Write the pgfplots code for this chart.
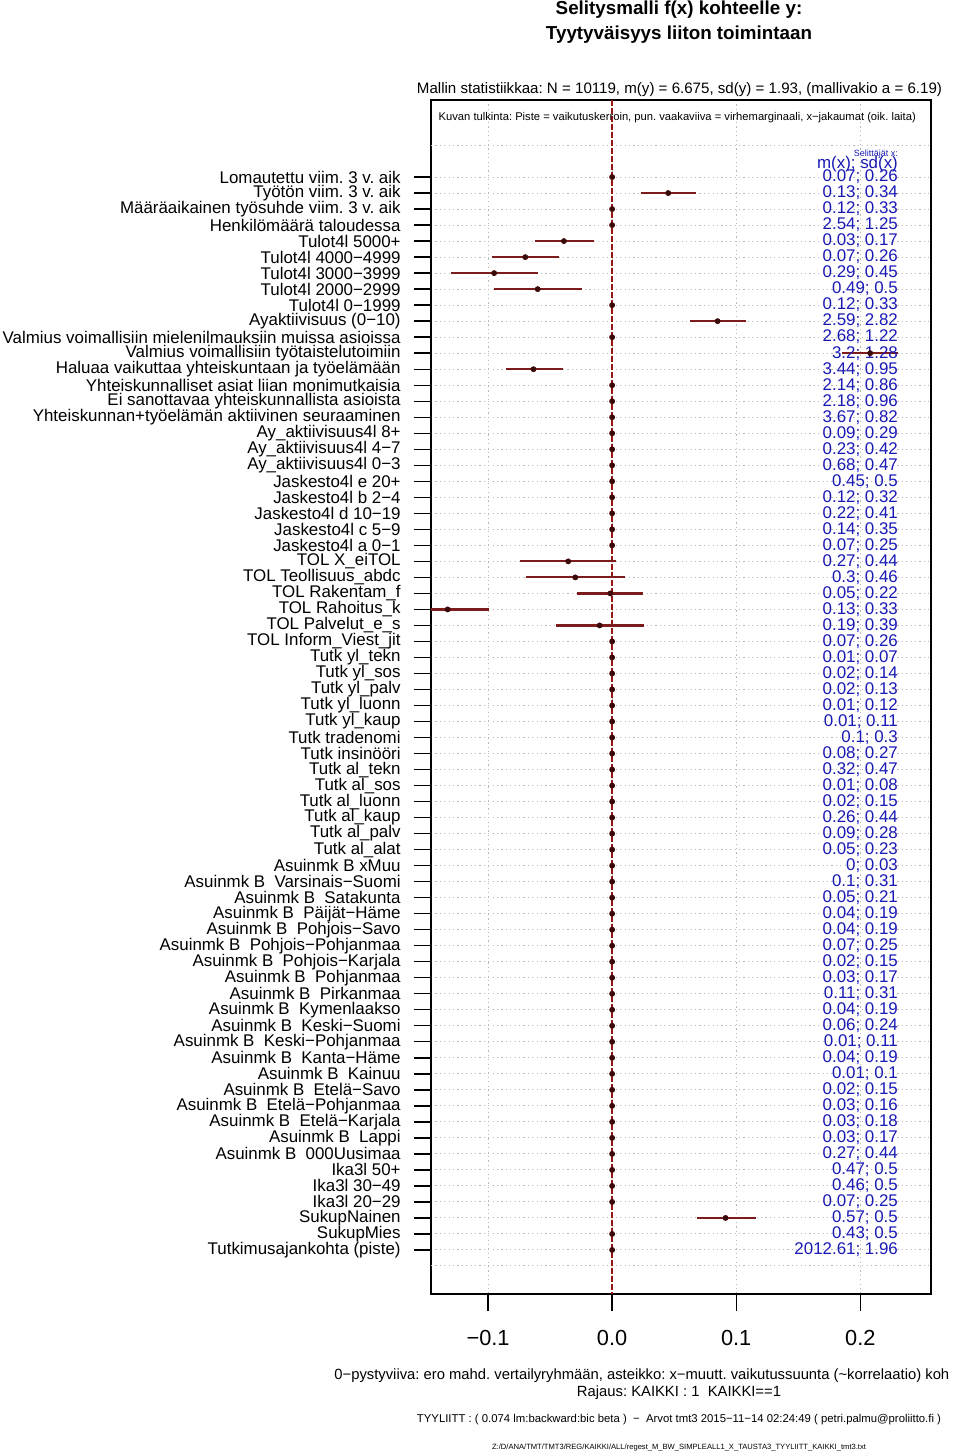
\documentclass[border=0pt]{standalone}
\usepackage{fontspec}
\setmainfont{Liberation Sans}
\usepackage{pgfplots}
\usepackage{pgfplotstable}
\pgfplotsset{compat=1.18}
\frenchspacing
\definecolor{errred}{RGB}{125,28,28}
\definecolor{dotc}{RGB}{60,10,10}
\definecolor{zred}{RGB}{150,22,22}
\definecolor{txtblue}{RGB}{25,25,180}
\definecolor{gridc}{RGB}{185,185,185}
\newcommand\lab{\fontsize{8.45}{9}\selectfont\frenchspacing}
\newcommand\ann[2]{\node[anchor=east,inner sep=0pt,text=txtblue,font=\lab] at (axis cs:0.2306,#1) {#2};}

% row (1 = top), effect, error minus, error plus
\pgfplotstableread{
row x em ep
1 0 0 0
2 0.0452 0.0216 0.0225
3 0 0 0
4 0 0 0
5 -0.0389 0.0236 0.0239
6 -0.0700 0.0268 0.0273
7 -0.0951 0.0346 0.0354
8 -0.0600 0.0351 0.0355
9 0 0 0
10 0.0850 0.0225 0.0230
11 0 0 0
12 0.2080 0.0230 0.0225
13 -0.0634 0.0225 0.0236
14 0 0 0
15 0 0 0
16 0 0 0
17 0 0 0
18 0 0 0
19 0 0 0
20 0 0 0
21 0 0 0
22 0 0 0
23 0 0 0
24 0 0 0
25 -0.0354 0.0390 0.0389
26 -0.0297 0.0395 0.0398
27 -0.0014 0.0268 0.0265
28 -0.1326 0.0332 0.0332
29 -0.0101 0.0354 0.0361
30 0 0 0
31 0 0 0
32 0 0 0
33 0 0 0
34 0 0 0
35 0 0 0
36 0 0 0
37 0 0 0
38 0 0 0
39 0 0 0
40 0 0 0
41 0 0 0
42 0 0 0
43 0 0 0
44 0 0 0
45 0 0 0
46 0 0 0
47 0 0 0
48 0 0 0
49 0 0 0
50 0 0 0
51 0 0 0
52 0 0 0
53 0 0 0
54 0 0 0
55 0 0 0
56 0 0 0
57 0 0 0
58 0 0 0
59 0 0 0
60 0 0 0
61 0 0 0
62 0 0 0
63 0 0 0
64 0 0 0
65 0 0 0
66 0.0914 0.0231 0.0245
67 0 0 0
68 0 0 0
}\effects

\begin{document}
\begin{tikzpicture}
\path[use as bounding box] (0,0) rectangle (480pt,728pt);
\begin{axis}[
  at={(215.5pt,81pt)}, anchor=south west,
  scale only axis, width=250pt, height=597pt,
  xmin=-0.146, xmax=0.257,
  y dir=reverse, ymin=-3.81, ymax=70.75,
  axis line style={line width=0.8pt},
  tick align=outside, major tick length=8.5pt,
  tick style={black, line width=0.7pt},
  xtick pos=bottom, ytick pos=left,
  xtick={-0.1,0,0.1,0.2},
  xticklabels={−0.1,0.0,0.1,0.2},
  xticklabel style={font=\fontsize{10.9}{12}\selectfont, yshift=-6pt},
  ytick={1,...,68},
  yticklabel style={font=\lab, anchor=east, inner sep=0pt, xshift=-6.5pt},
  yticklabels={
Lomautettu viim. 3 v. aik,
Työtön viim. 3 v. aik,
Määräaikainen työsuhde viim. 3 v. aik,
Henkilömäärä taloudessa,
Tulot4l 5000+,
Tulot4l 4000−4999,
Tulot4l 3000−3999,
Tulot4l 2000−2999,
Tulot4l 0−1999,
Ayaktiivisuus (0−10),
Valmius voimallisiin mielenilmauksiin muissa asioissa,
Valmius voimallisiin työtaistelutoimiin,
Haluaa vaikuttaa yhteiskuntaan ja työelämään,
Yhteiskunnalliset asiat liian monimutkaisia,
Ei sanottavaa yhteiskunnallista asioista,
Yhteiskunnan+työelämän aktiivinen seuraaminen,
Ay\_aktiivisuus4l 8+,
Ay\_aktiivisuus4l 4−7,
Ay\_aktiivisuus4l 0−3,
Jaskesto4l e 20+,
Jaskesto4l b 2−4,
Jaskesto4l d 10−19,
Jaskesto4l c 5−9,
Jaskesto4l a 0−1,
TOL X\_eiTOL,
TOL Teollisuus\_abdc,
TOL Rakentam\_f,
TOL Rahoitus\_k,
TOL Palvelut\_e\_s,
TOL Inform\_Viest\_jit,
Tutk yl\_tekn,
Tutk yl\_sos,
Tutk yl\_palv,
Tutk yl\_luonn,
Tutk yl\_kaup,
Tutk tradenomi,
Tutk insinööri,
Tutk al\_tekn,
Tutk al\_sos,
Tutk al\_luonn,
Tutk al\_kaup,
Tutk al\_palv,
Tutk al\_alat,
Asuinmk B xMuu,
Asuinmk B\ \ Varsinais−Suomi,
Asuinmk B\ \ Satakunta,
Asuinmk B\ \ Päijät−Häme,
Asuinmk B\ \ Pohjois−Savo,
Asuinmk B\ \ Pohjois−Pohjanmaa,
Asuinmk B\ \ Pohjois−Karjala,
Asuinmk B\ \ Pohjanmaa,
Asuinmk B\ \ Pirkanmaa,
Asuinmk B\ \ Kymenlaakso,
Asuinmk B\ \ Keski−Suomi,
Asuinmk B\ \ Keski−Pohjanmaa,
Asuinmk B\ \ Kanta−Häme,
Asuinmk B\ \ Kainuu,
Asuinmk B\ \ Etelä−Savo,
Asuinmk B\ \ Etelä−Pohjanmaa,
Asuinmk B\ \ Etelä−Karjala,
Asuinmk B\ \ Lappi,
Asuinmk B\ \ 000Uusimaa,
Ika3l 50+,
Ika3l 30−49,
Ika3l 20−29,
SukupNainen,
SukupMies,
Tutkimusajankohta (piste)},
  xmajorgrids, ymajorgrids,
  grid style={gridc, line width=0.5pt, dash pattern=on 0.6pt off 1.6pt},
  extra y ticks={-1,69}, extra y tick labels={},
  extra y tick style={grid=major, major tick length=0pt},
  clip=true,
]
\addplot[zred, line width=0.85pt, dash pattern=on 3pt off 1pt, forget plot] coordinates {(0,-3.81) (0,70.75)};
\addplot[only marks, mark=*, mark size=1.25pt, mark options={fill=dotc, draw=dotc},
  error bars/.cd, x dir=both, x explicit, error mark=none,
  error bar style={errred, line width=1.1pt}]
  table[x=x, y=row, x error minus=em, x error plus=ep] {\effects};
\node[font=\fontsize{5.6}{6.5}\selectfont, inner sep=0pt] at (axis cs:0.0525,-2.7) {Kuvan tulkinta: Piste = vaikutuskerroin, pun. vaakaviiva = virhemarginaali, x−jakaumat (oik. laita)};
\node[anchor=east, inner sep=0pt, text=txtblue, font=\fontsize{4.5}{5}\selectfont] at (axis cs:0.2306,-0.45) {Selittäjät x:};
\ann{0.2}{m(x); sd(x)}
\ann{1}{0.07; 0.26}
\ann{2}{0.13; 0.34}
\ann{3}{0.12; 0.33}
\ann{4}{2.54; 1.25}
\ann{5}{0.03; 0.17}
\ann{6}{0.07; 0.26}
\ann{7}{0.29; 0.45}
\ann{8}{0.49; 0.5}
\ann{9}{0.12; 0.33}
\ann{10}{2.59; 2.82}
\ann{11}{2.68; 1.22}
\ann{12}{3.2; 1.28}
\ann{13}{3.44; 0.95}
\ann{14}{2.14; 0.86}
\ann{15}{2.18; 0.96}
\ann{16}{3.67; 0.82}
\ann{17}{0.09; 0.29}
\ann{18}{0.23; 0.42}
\ann{19}{0.68; 0.47}
\ann{20}{0.45; 0.5}
\ann{21}{0.12; 0.32}
\ann{22}{0.22; 0.41}
\ann{23}{0.14; 0.35}
\ann{24}{0.07; 0.25}
\ann{25}{0.27; 0.44}
\ann{26}{0.3; 0.46}
\ann{27}{0.05; 0.22}
\ann{28}{0.13; 0.33}
\ann{29}{0.19; 0.39}
\ann{30}{0.07; 0.26}
\ann{31}{0.01; 0.07}
\ann{32}{0.02; 0.14}
\ann{33}{0.02; 0.13}
\ann{34}{0.01; 0.12}
\ann{35}{0.01; 0.11}
\ann{36}{0.1; 0.3}
\ann{37}{0.08; 0.27}
\ann{38}{0.32; 0.47}
\ann{39}{0.01; 0.08}
\ann{40}{0.02; 0.15}
\ann{41}{0.26; 0.44}
\ann{42}{0.09; 0.28}
\ann{43}{0.05; 0.23}
\ann{44}{0; 0.03}
\ann{45}{0.1; 0.31}
\ann{46}{0.05; 0.21}
\ann{47}{0.04; 0.19}
\ann{48}{0.04; 0.19}
\ann{49}{0.07; 0.25}
\ann{50}{0.02; 0.15}
\ann{51}{0.03; 0.17}
\ann{52}{0.11; 0.31}
\ann{53}{0.04; 0.19}
\ann{54}{0.06; 0.24}
\ann{55}{0.01; 0.11}
\ann{56}{0.04; 0.19}
\ann{57}{0.01; 0.1}
\ann{58}{0.02; 0.15}
\ann{59}{0.03; 0.16}
\ann{60}{0.03; 0.18}
\ann{61}{0.03; 0.17}
\ann{62}{0.27; 0.44}
\ann{63}{0.47; 0.5}
\ann{64}{0.46; 0.5}
\ann{65}{0.07; 0.25}
\ann{66}{0.57; 0.5}
\ann{67}{0.43; 0.5}
\ann{68}{2012.61; 1.96}
\end{axis}
\node[font=\bfseries\fontsize{9.4}{11}\selectfont, align=center, inner sep=0pt] at (339.5pt,716.8pt) {Selitysmalli f(x) kohteelle y:\\[1.3pt]Tyytyväisyys liiton toimintaan};
\node[font=\fontsize{7.55}{9}\selectfont, inner sep=0pt] at (339.75pt,683pt) {Mallin statistiikkaa: N = 10119, m(y) = 6.675, sd(y) = 1.93, (mallivakio a = 6.19)};
\node[font=\fontsize{7.4}{9}\selectfont, anchor=west, inner sep=0pt] at (167pt,40pt) {0−pystyviiva: ero mahd. vertailyryhmään, asteikko: x−muutt. vaikutussuunta (\textasciitilde korrelaatio) koh};
\node[font=\fontsize{7.4}{9}\selectfont, inner sep=0pt] at (339.5pt,31.5pt) {Rajaus: KAIKKI : 1\ \ KAIKKI==1};
\node[font=\fontsize{5.67}{6.5}\selectfont, inner sep=0pt] at (339.5pt,18pt) {TYYLIITT : ( 0.074 lm:backward:bic beta )\ \ −\ \ Arvot tmt3 2015−11−14 02:24:49 ( petri.palmu@proliitto.fi )};
\node[font=\fontsize{3.8}{4.5}\selectfont, inner sep=0pt] at (339.5pt,4pt) {Z:/D/ANA/TMT/TMT3/REG/KAIKKI/ALL/regest\_M\_BW\_SIMPLEALL1\_X\_TAUSTA3\_TYYLIITT\_KAIKKI\_tmt3.txt};
\end{tikzpicture}
\end{document}
